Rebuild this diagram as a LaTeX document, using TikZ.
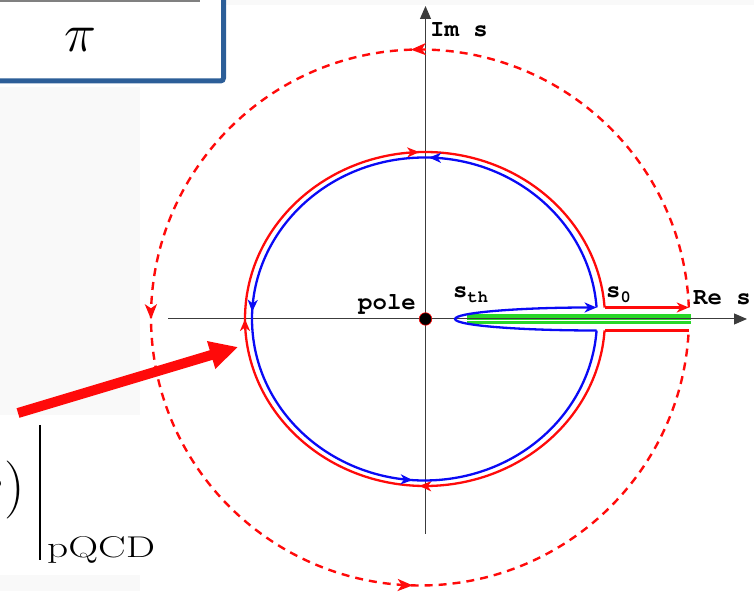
\RequirePackage{fix-cm}
\documentclass[tikz,border=0pt]{standalone}
\usepackage{graphicx}
\usepackage{fontspec}
\newfontfamily\labfont{TeX Gyre Cursor}
\usetikzlibrary{arrows.meta,decorations.markings}
\definecolor{boxblue}{RGB}{44,94,152}
\definecolor{cred}{RGB}{255,10,10}
\definecolor{cblue}{RGB}{10,10,245}
\definecolor{cgreen}{RGB}{40,215,40}
\definecolor{panel}{RGB}{249,249,249}
\definecolor{axisgray}{RGB}{60,60,60}
\tikzset{
  contour/.style={line width=2.3pt},
  dashedcontour/.style={line width=2.4pt, dash pattern=on 8pt off 6pt},
  smalltip/.style={-{Stealth[length=12pt,width=10pt,inset=3.5pt]}},
  axisline/.style={axisgray, line width=1pt, -{Triangle[length=13pt,width=11pt]}},
  lab/.style={inner sep=0pt, font=\fontsize{24}{26}\selectfont\labfont\bfseries},
  bigarrow/.style={cred, line width=10pt, -{Triangle[length=28pt,width=27pt]}},
}
\newcommand{\tipS}{\pgfsetdash{}{0pt}\arrow{Stealth[length=12pt,width=10pt,inset=3.5pt]}}
\newcommand{\tipL}{\pgfsetdash{}{0pt}\arrow{Stealth[length=15pt,width=12pt,inset=4pt]}}
\begin{document}
\begin{tikzpicture}[x=1pt,y=1pt]
\useasboundingbox (0,0) rectangle (754,591);
\clip (0,0) rectangle (754,591);
% background panels
\fill[panel] (0,176) rectangle (140,504);
\fill[panel] (0,0) rectangle (140,16);
\fill[panel] (205,586) rectangle (754,591);
% top-left box
\draw[boxblue, line width=5pt, fill=white, rounded corners=3pt] (-20,510) rectangle (223.5,640);
\draw[gray, line width=1.5pt] (0,590) -- (200,590);
\node[inner sep=0pt] (pi) at (80,551) {\fontsize{54}{60}\selectfont$\pi$};
% bottom-left formula fragment
\node[inner sep=0pt, anchor=base east] (sparen) at (25,86) {\fontsize{58}{60}\selectfont$s)$};
\coordinate (bartop) at (40,166);
\coordinate (barbot) at (40,31);
\draw[black, line width=1.6pt] (bartop) -- (barbot);
\node[inner sep=0pt, anchor=base west] (pqcd) at (47,33) {\fontsize{30}{32}\selectfont\scalebox{1.38}[1]{pQCD}};
% green cut
\coordinate (g1) at (467,272);
\coordinate (g2) at (691,272);
\draw[cgreen, line width=3.2pt] ([yshift=3.3pt]g1) -- ([yshift=3.3pt]g2);
\draw[cgreen, line width=3.2pt] ([yshift=-3.3pt]g1) -- ([yshift=-3.3pt]g2);
\draw[cgreen, line width=3pt] (g1) -- (g2);
% axes
\coordinate (xa) at (168,272);
\coordinate (xb) at (747,272);
\coordinate (ya) at (425.5,57);
\coordinate (yb) at (425.5,585);
\draw[axisline] (xa) -- (xb);
\draw[axisline] (ya) -- (yb);
% outer dashed circle
\coordinate (du) at (688.8,283.5);
\coordinate (dl) at (688.7,260.5);
\draw[cred, dashedcontour, postaction={decorate},
  decoration={markings,
    mark=at position 0.253 with {\tipL},
    mark=at position 0.502 with {\tipL},
    mark=at position 0.75 with {\tipL}}]
  (du) arc[start angle=2.138, end angle=357.219, x radius=269, y radius=268];
% red contour
\coordinate (ru) at (604.57,283.5);
\coordinate (rl) at (604.57,260.5);
\draw[cred, contour, postaction={decorate},
  decoration={markings,
    mark=at position 0.25 with {\tipS},
    mark=at position 0.5 with {\tipS},
    mark=at position 0.75 with {\tipS}}]
  (rl) arc[start angle=-3.949, end angle=-356.051, x radius=180, y radius=167];
\draw[cred, contour, smalltip] (ru) -- (du);
\draw[cred, contour] (dl) -- (rl);
% blue contour
\coordinate (bu) at (596.56,283.5);
\coordinate (bl) at (596.56,260.5);
\draw[cblue, contour, postaction={decorate},
  decoration={markings,
    mark=at position 0.24 with {\tipS},
    mark=at position 0.493 with {\tipS},
    mark=at position 0.744 with {\tipS}}]
  (bu) arc[start angle=4.083, end angle=355.917, x radius=172.5, y radius=161.5];
\draw[cblue, contour, smalltip] (bl) arc[start angle=270, end angle=90, x radius=141.5, y radius=11.5];
% pole
\filldraw[fill=black, draw=cred, line width=0.6pt] (425.5,272) circle (6.3);
\node[lab, anchor=base east] (pole) at (416,281) {pole};
% labels
\node[lab, anchor=base west] (ims) at (430,554) {Im s};
\node[lab, anchor=base west] (res) at (693,286) {Re s};
\node[lab, anchor=base west] (sth) at (453,293) {s\raisebox{-5pt}{\fontsize{17}{18}\selectfont th}};
\node[lab, anchor=base west] (szero) at (606,293) {s\raisebox{-5pt}{\fontsize{17}{18}\selectfont 0}};
% big red arrow
\coordinate (ba) at (18,178);
\coordinate (bb) at (238,244);
\draw[bigarrow] (ba) -- (bb);
\end{tikzpicture}
\end{document}
